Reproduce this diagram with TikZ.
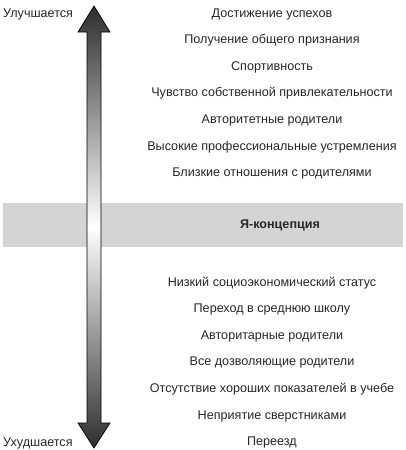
\documentclass[tikz,border=0pt]{standalone}
\usepackage{fontspec}
\setmainfont{Liberation Sans}
\usetikzlibrary{positioning}

\begin{document}
\begin{tikzpicture}[
  x=1pt, y=-1pt,
  node distance=26.6pt, on grid,
  item/.style={font=\fontsize{12.6}{15}\selectfont, text=black!85, inner sep=0pt, text height=9pt, text depth=3pt},
  side/.style={item, anchor=west},
  band/.style={fill=black!17},
  bigarrow/.style={draw=black, line width=0.7pt, top color=black!82, bottom color=black!82, middle color=white}
]
\useasboundingbox (0,0) rectangle (406,450);

% grey band and the double arrow over it
\fill[band] (3,203) rectangle (403,247);
\draw[bigarrow] (94,6) -- (110,32) -- (101,32) -- (101,423) -- (110,423)
  -- (94,448) -- (78,423) -- (87,423) -- (87,32) -- (78,32) -- cycle;

\node[side] (better) at (3,14) {Улучшается};
\node[side] (worse) at (3,443) {Ухудшается};

\node[item] (up1) at (272,14) {Достижение успехов};
\node[item, below=of up1] (up2) {Получение общего признания};
\node[item, below=of up2] (up3) {Спортивность};
\node[item, below=of up3] (up4) {Чувство собственной привлекательности};
\node[item, below=of up4] (up5) {Авторитетные родители};
\node[item, below=of up5] (up6) {Высокие профессиональные устремления};
\node[item, below=of up6] (up7) {Близкие отношения с родителями};

\node[item, font=\fontsize{12.6}{15}\selectfont\bfseries] (self) at (280,225) {Я-концепция};

\node[item] (down1) at (272,283) {Низкий социоэкономический статус};
\node[item, below=of down1] (down2) {Переход в среднюю школу};
\node[item, below=of down2] (down3) {Авторитарные родители};
\node[item, below=of down3] (down4) {Все дозволяющие родители};
\node[item, below=of down4] (down5) {Отсутствие хороших показателей в учебе};
\node[item, below=of down5] (down6) {Неприятие сверстниками};
\node[item, below=of down6] (down7) {Переезд};
\end{tikzpicture}
\end{document}
